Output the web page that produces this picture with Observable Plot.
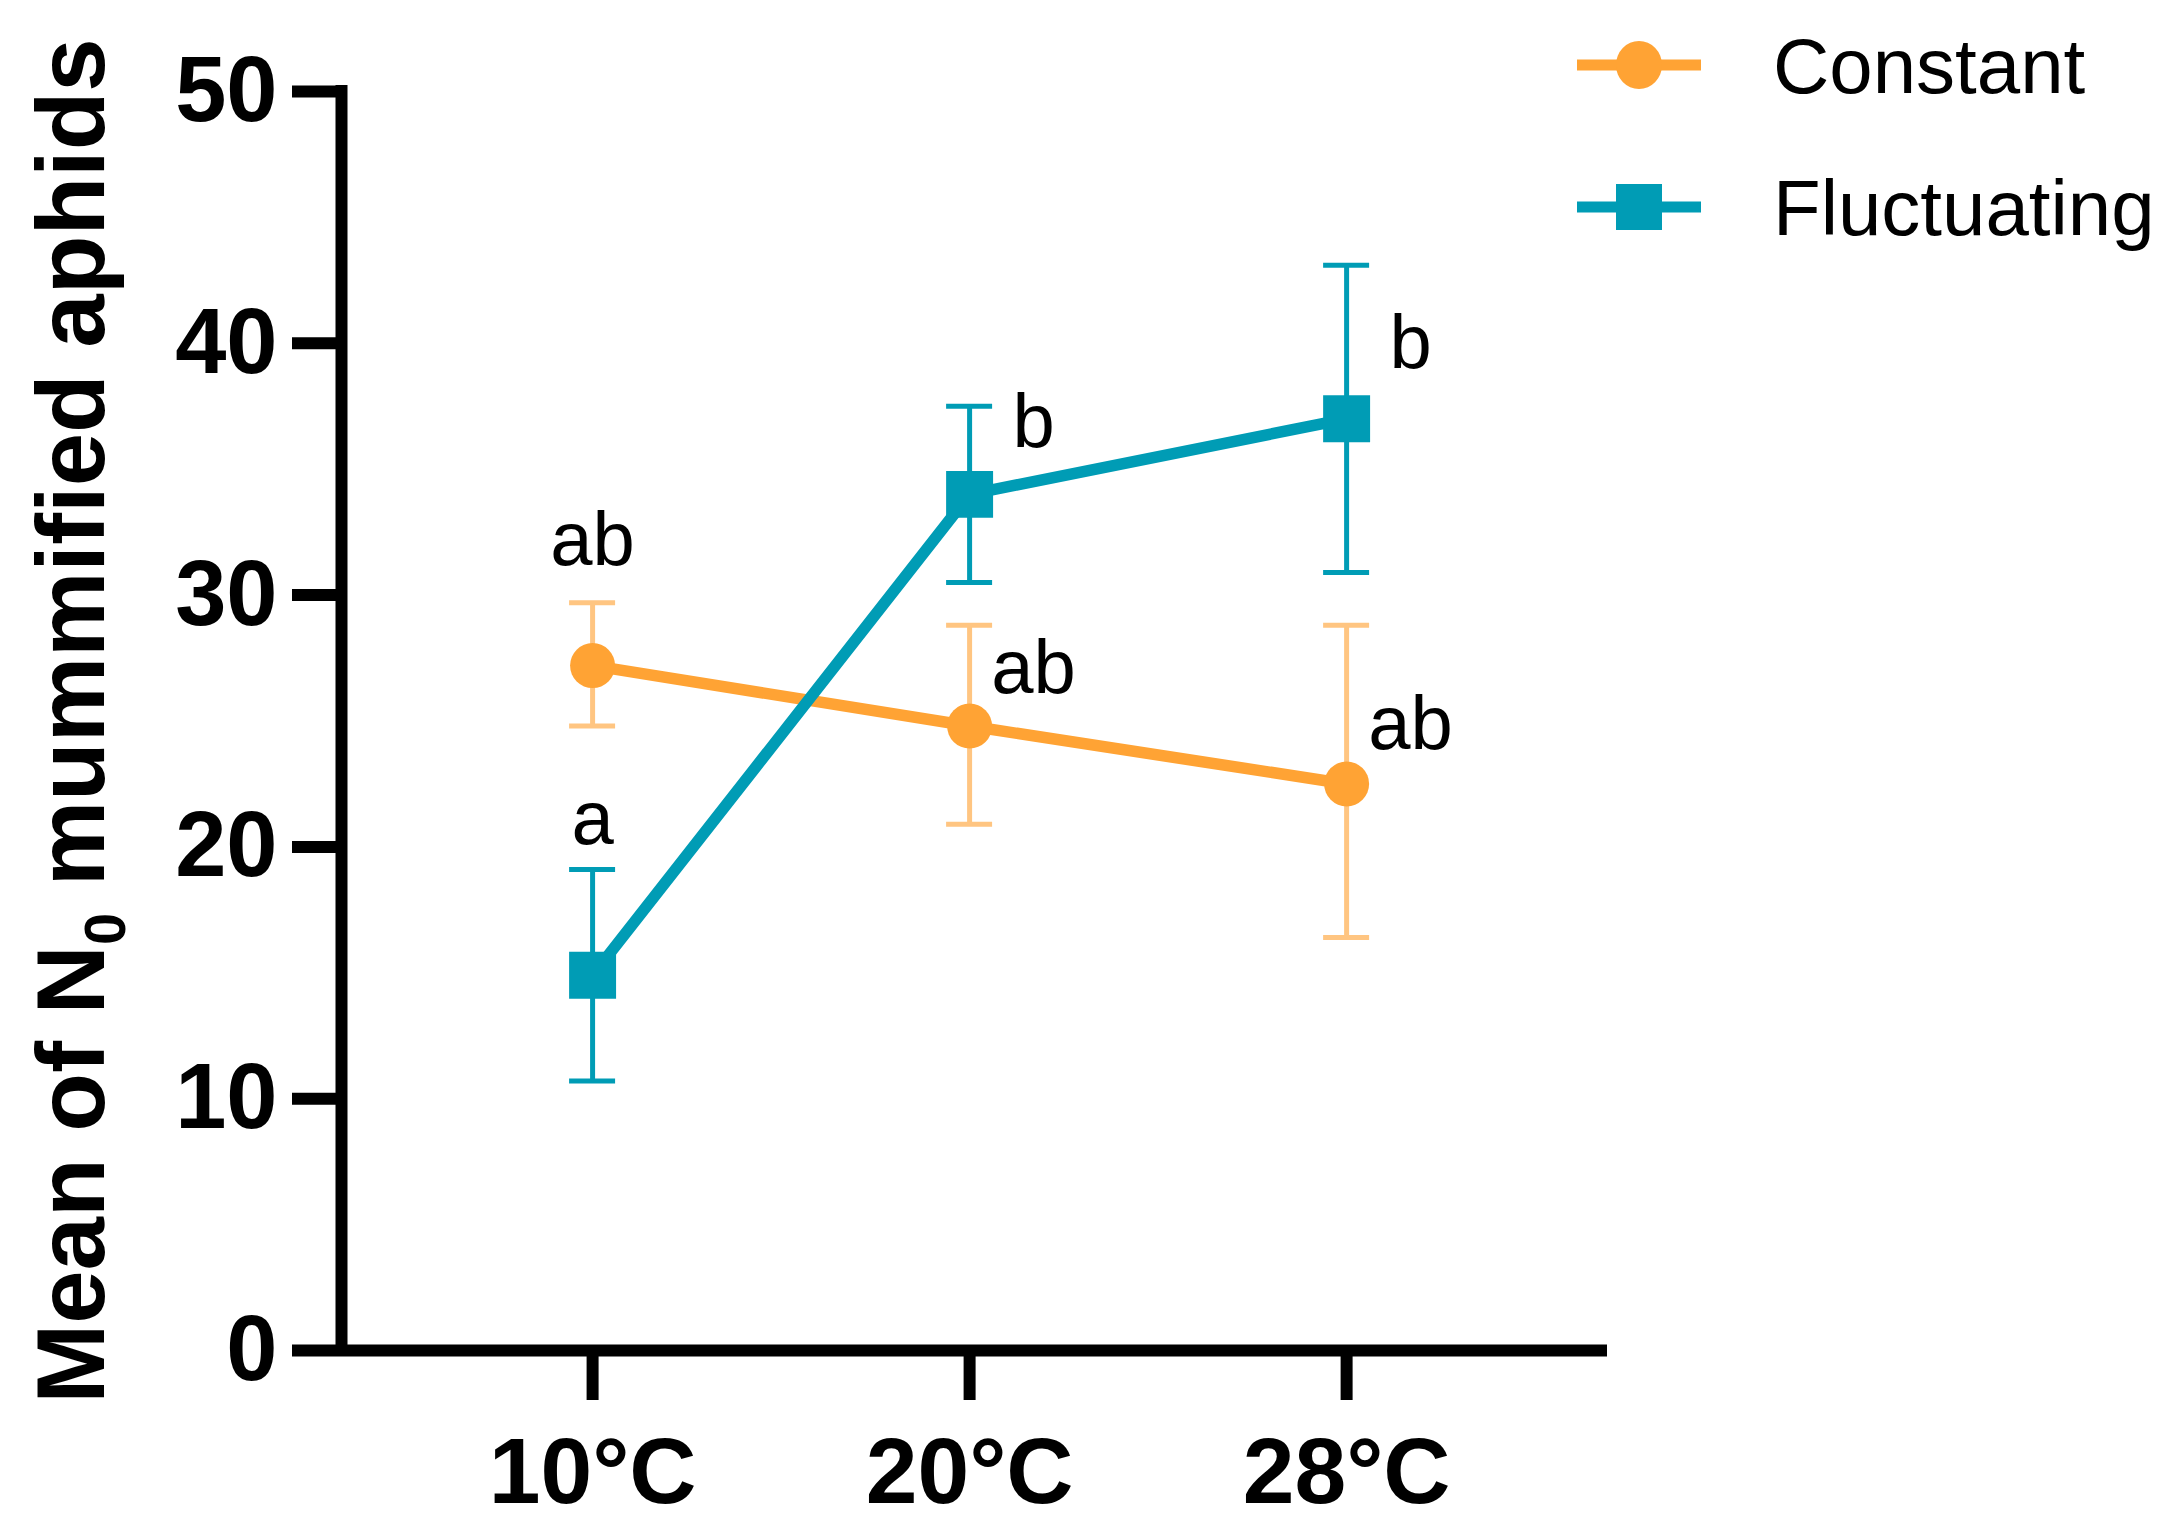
<!DOCTYPE html>
<html>
<head>
<meta charset="utf-8">
<script src="https://cdn.jsdelivr.net/npm/d3@7"></script>
<script src="https://cdn.jsdelivr.net/npm/@observablehq/plot@0.6"></script>
<style>
  html, body { margin: 0; padding: 0; background: #ffffff; }
  #chart svg { display: block; }
</style>
</head>
<body>
<div id="chart"></div>
<script>
// ---- data ----
const temps = ["10°C", "20°C", "28°C"];
const series = ["Constant", "Fluctuating"];
const constantMean  = [27.2, 24.8, 22.5];
const constantUpper = [29.7, 28.8, 28.8];
const constantLower = [24.8, 20.9, 16.4];
const fluctMean  = [14.9, 34.0, 37.0];
const fluctUpper = [19.1, 37.5, 43.1];
const fluctLower = [10.7, 30.5, 30.9];
const letterTemp = ["10°C", "10°C", "20°C", "20°C", "28°C", "28°C"];
const letterText = ["ab", "a", "b", "ab", "b", "ab"];
const letterY    = [31.2, 20.1, 35.9, 26.1, 39.0, 23.9];
const yTicks = [0, 10, 20, 30, 40, 50];
const yTitleParts = ["Mean of N", "0", " mummified aphids"];

// ---- styles ----
const colors = {Constant: "#FFA334", Fluctuating: "#009CB5"};
const errColors = {Constant: "#FFC581", Fluctuating: "#009CB5"};
const xDomain = [-0.666, 2.692];

const means = {Constant: constantMean, Fluctuating: fluctMean};
const uppers = {Constant: constantUpper, Fluctuating: fluctUpper};
const lowers = {Constant: constantLower, Fluctuating: fluctLower};

const rows = series.flatMap(s => temps.map((t, i) => ({
  series: s, temp: t, i, mean: means[s][i], upper: uppers[s][i], lower: lowers[s][i]
})));
const letters = letterText.map((t, k) => ({text: t, temp: letterTemp[k], i: temps.indexOf(letterTemp[k]), y: letterY[k]}));

const bySeries = s => rows.filter(d => d.series === s);
const fullTitle = yTitleParts.join("");

const marks = [];
for (const s of series) {
  marks.push(Plot.ruleX(bySeries(s), {x: "i", y1: "lower", y2: "upper", stroke: errColors[s], strokeWidth: 5}));
  marks.push(Plot.ruleY(bySeries(s), {x1: "i", x2: "i", y: "upper", stroke: errColors[s], strokeWidth: 5, insetLeft: -23, insetRight: -23}));
  marks.push(Plot.ruleY(bySeries(s), {x1: "i", x2: "i", y: "lower", stroke: errColors[s], strokeWidth: 5, insetLeft: -23, insetRight: -23}));
}
for (const s of series) {
  marks.push(Plot.line(bySeries(s), {x: "i", y: "mean", stroke: colors[s], strokeWidth: 11.5}));
}
marks.push(Plot.dot(bySeries("Constant"), {x: "i", y: "mean", symbol: "circle", r: 22.5, fill: colors.Constant}));
marks.push(Plot.dot(bySeries("Fluctuating"), {x: "i", y: "mean", symbol: "square", r: 26.5, fill: colors.Fluctuating}));

marks.push(Plot.text(letters.filter(d => d.i === 0), {x: "i", y: "y", text: "text", fontSize: 76, lineAnchor: "bottom", fill: "#000"}));
marks.push(Plot.text(letters.filter(d => d.i !== 0), {x: "i", y: "y", text: "text", dx: 64, fontSize: 76, lineAnchor: "bottom", fill: "#000"}));

marks.push(Plot.ruleY([0], {strokeWidth: 12, stroke: "#000"}));
marks.push(Plot.ruleX([xDomain[0]], {strokeWidth: 12, stroke: "#000", insetTop: -6, insetBottom: -6}));

marks.push(Plot.axisY({ticks: yTicks, tickSize: 49, tickPadding: 15, strokeWidth: 12, stroke: "#000", fill: "#000",
  fontSize: 92, fontWeight: "bold", label: null, tickFormat: d => String(d)}));
marks.push(Plot.axisX({ticks: [0, 1, 2], tickFormat: i => temps[i], tickSize: 50, tickPadding: 36, strokeWidth: 12,
  stroke: "#000", fill: "#000", fontSize: 93, fontWeight: "bold", label: null}));

marks.push(Plot.text([fullTitle], {frameAnchor: "left", rotate: -90, dx: -238, lineAnchor: "bottom", textAnchor: "middle",
  fontSize: 96, fontWeight: "bold", fill: "#000"}));

const svg = Plot.plot({
  width: 2177,
  height: 1532,
  marginLeft: 341,
  marginRight: 570,
  marginTop: 91,
  marginBottom: 182,
  style: {fontFamily: "'Liberation Sans', Arial, sans-serif", background: "#ffffff", color: "#000", overflow: "visible"},
  x: {type: "linear", domain: xDomain},
  y: {domain: [0, 50]},
  marks
});

// subscript in y-axis title
d3.select(svg).selectAll("text").filter(function() { return this.textContent === fullTitle; }).each(function() {
  const el = d3.select(this);
  el.text(null);
  el.append("tspan").text(yTitleParts[0]);
  el.append("tspan").attr("font-size", "60%").attr("dy", 21).text(yTitleParts[1]);
  el.append("tspan").attr("dy", -21).text(yTitleParts[2]);
});

// legend
const lg = d3.select(svg).append("g")
  .attr("font-family", "'Liberation Sans', Arial, sans-serif")
  .attr("text-anchor", "start");
series.forEach((s, k) => {
  const cy = 65 + k * 142;
  const g = lg.append("g");
  g.append("line").attr("x1", 1577).attr("x2", 1701).attr("y1", cy).attr("y2", cy)
    .attr("stroke", colors[s]).attr("stroke-width", 11);
  if (s === "Constant") {
    g.append("ellipse").attr("cx", 1639).attr("cy", cy).attr("rx", 23).attr("ry", 24).attr("fill", colors[s]);
  } else {
    g.append("rect").attr("x", 1639 - 23).attr("y", cy - 23).attr("width", 46).attr("height", 46).attr("fill", colors[s]);
  }
  g.append("text").attr("x", 1773).attr("y", cy + 28).attr("font-size", 78).attr("fill", "#000")
    .attr("text-anchor", "start").text(s);
});

document.getElementById("chart").appendChild(svg);
</script>
</body>
</html>
